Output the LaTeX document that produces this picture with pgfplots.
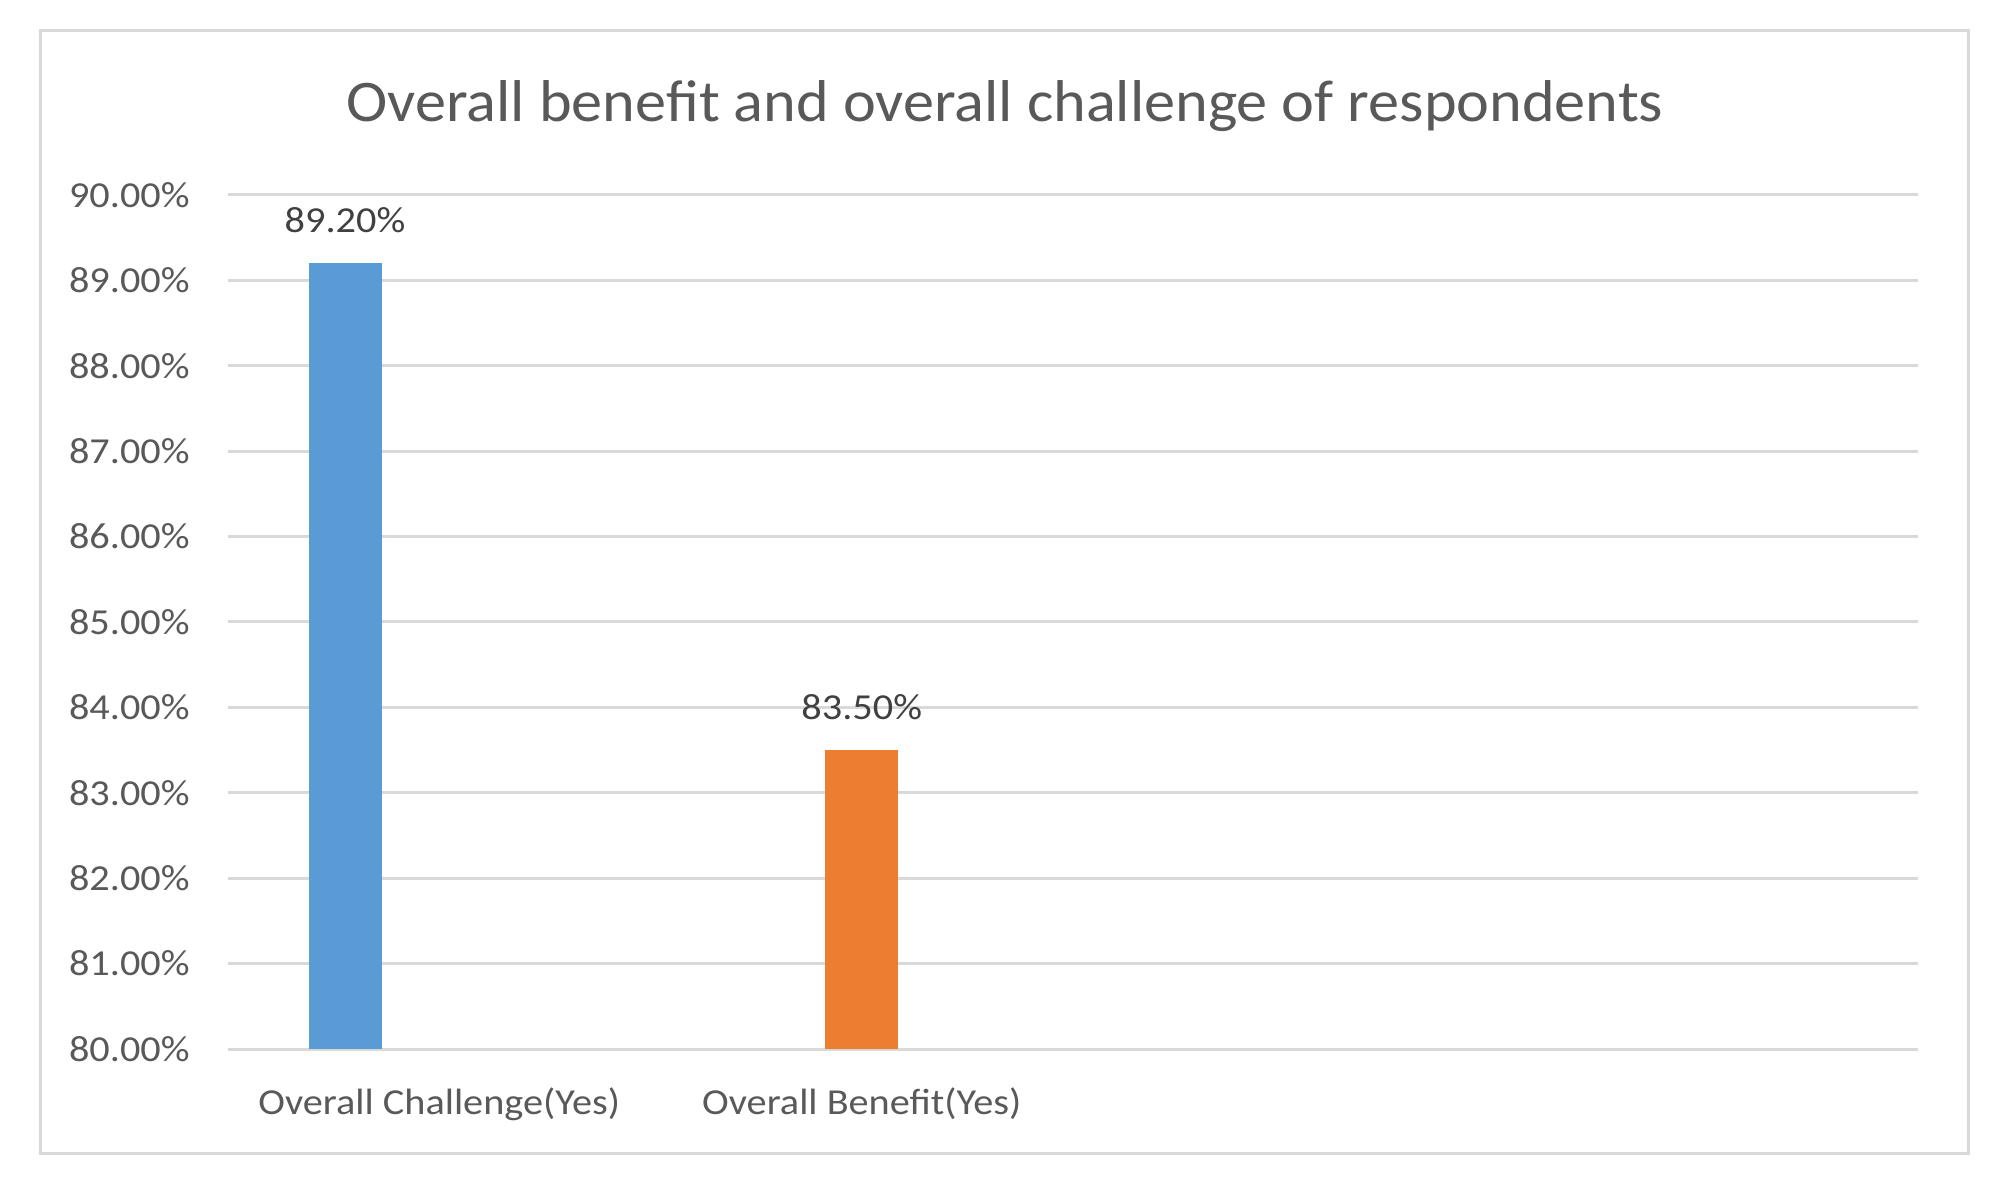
\documentclass[border=0pt]{standalone}
\usepackage{pgfplots}
\pgfplotsset{compat=1.18}
\usepackage{fontspec}
\setmainfont{Carlito}[FakeStretch=1.1]
\newfontfamily\titlefont{Carlito}[FakeStretch=1.055]
\definecolor{barblue}{HTML}{5B9BD5}
\definecolor{barorange}{HTML}{ED7D31}
\definecolor{gridgray}{HTML}{D9D9D9}
\definecolor{ticktext}{HTML}{595959}
\definecolor{labeltext}{HTML}{404040}
\begin{document}
\begin{tikzpicture}
\useasboundingbox[fill=white] (-114bp,-70bp) rectangle (890bp,524.5bp);
\draw[gridgray, line width=1.5bp] (-93.5bp,-52bp) rectangle (870bp,509bp);
\begin{axis}[
  at={(0,0)}, anchor=south west,
  scale only axis,
  width=845bp, height=427bp,
  xmin=0, xmax=4, ymin=80, ymax=90,
  ytick={80,81,...,90},
  xtick={0.5,1.5},
  xticklabels={Overall Challenge(Yes), Overall Benefit(Yes)},
  axis line style={draw=none},
  major tick length=0pt,
  ymajorgrids,
  major grid style={gridgray, line width=1.5bp},
  /pgf/number format/assume math mode=true,
  yticklabel={\pgfmathprintnumber[fixed,fixed zerofill,precision=2]{\tick}\%},
  yticklabel style={anchor=east, inner sep=0pt, xshift=-19bp, font=\fontsize{18.3bp}{20bp}\selectfont, text=ticktext},
  xticklabel style={anchor=base, inner sep=0pt, yshift=-32.5bp, font=\fontsize{18.3bp}{20bp}\selectfont, text=ticktext},
  nodes near coords={\pgfmathprintnumber[fixed,fixed zerofill,precision=2]{\pgfplotspointmeta}\%},
  nodes near coords style={anchor=base, inner sep=0pt, yshift=15.5bp, font=\fontsize{18.3bp}{20bp}\selectfont, text=labeltext},
  clip=false,
]
\addplot[ybar, bar width=36.5bp, bar shift=0pt, fill=barblue, draw=none] coordinates {(0.277,89.2)};
\addplot[ybar, bar width=36.5bp, bar shift=0pt, fill=barorange, draw=none] coordinates {(1.5,83.5)};
\end{axis}
\node[anchor=base, inner sep=0pt, text=ticktext, font=\titlefont\fontsize{29.5bp}{32bp}\selectfont] at (388.5bp,463.5bp) {Overall benefit and overall challenge of respondents};
\end{tikzpicture}
\end{document}
